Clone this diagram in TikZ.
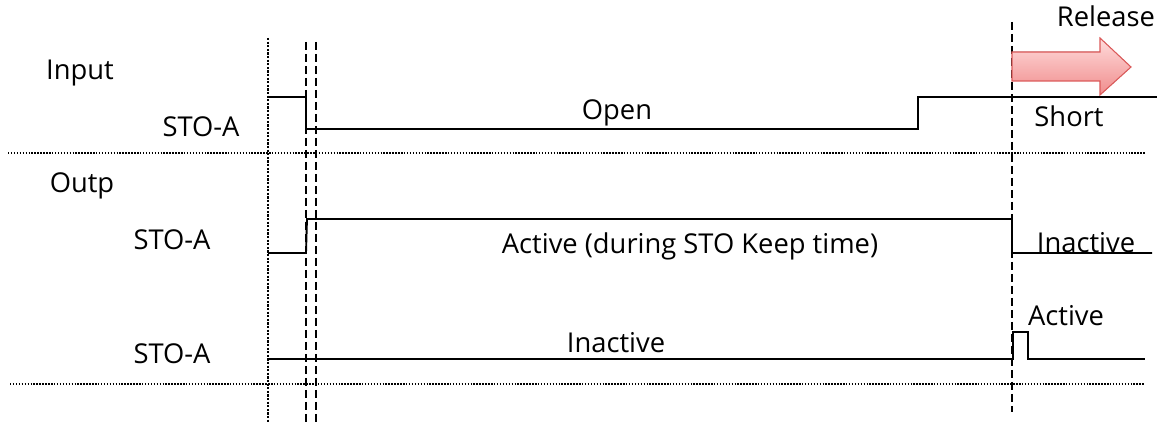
\documentclass[tikz,border=0pt]{standalone}
\usepackage{fontspec}
\setmainfont{Open Sans}
\usetikzlibrary{calc}
\definecolor{ArrowClr}{rgb}{0.86,0.35,0.35}
\definecolor{ArrowTop}{rgb}{1,0.86,0.86}
\definecolor{ArrowBot}{rgb}{0.94,0.55,0.55}

\begin{document}
\begin{tikzpicture}[x=0.75pt,y=-0.75pt,
  sig/.style={line width=1.4pt,color=black},
  sep/.style={line width=1.2pt,dash pattern=on 1.1pt off 1.1pt},
  tmark/.style={line width=1.3pt,dash pattern=on 6pt off 3pt},
  lbl/.style={font=\fontsize{20.5}{24}\selectfont,inner sep=0pt}]
\useasboundingbox (0,0) rectangle (1161,423);

% time markers
\coordinate (t0top) at (268,38);  \coordinate (t0bot) at (268,423);
\coordinate (t1top) at (306,42);  \coordinate (t1bot) at (306,423);
\coordinate (t2top) at (316,42);  \coordinate (t2bot) at (316,423);
\coordinate (t3top) at (1012,22); \coordinate (t3bot) at (1012,412);
\draw[line width=2.2pt,dash pattern=on 1.6pt off 1.1pt] (t0top) -- (t0bot);
\draw[tmark] (t1top) -- (t1bot);
\draw[tmark] (t2top) -- (t2bot);
\draw[tmark] (t3top) -- (t3bot);

% separators
\coordinate (s1l) at (8,153);  \coordinate (s1r) at (1145,153);
\coordinate (s2l) at (10,384); \coordinate (s2r) at (1145,384);
\draw[sep] (s1l) -- (s1r);
\draw[sep] (s2l) -- (s2r);

% release arrow
\filldraw[draw=ArrowClr,line width=0.8pt,top color=ArrowTop,bottom color=ArrowBot]
  (1012,52) -- (1100,52) -- (1100,38) -- (1131,67) -- (1100,95) -- (1100,81) -- (1012,81) -- cycle;

% signals
\draw[sig] (268,97) -- (306,97) -- (306,129) -- (918,129) -- (918,97) -- (1157,97);
\draw[sig] (268,253) -- (306,253) -- (307,219) -- (1012,219) -- (1012,253) -- (1152,253);
\draw[sig] (268,359) -- (1013,359) -- (1013,332) -- (1028,332) -- (1028,359) -- (1145,359);

% labels
\node[lbl] (input) at (80,73) {Input};
\node[lbl] (ina) at (201,127) {STO-A};
\node[lbl] (outp) at (82,186) {Outp};
\node[lbl] (outa) at (172,240) {STO-A};
\node[lbl] (outb) at (172,354) {STO-A};
\node[lbl] (open) at (617,113) {Open};
\node[lbl] (act) at (690,246) {Active (during STO Keep time)};
\node[lbl] (inact) at (616,343) {Inactive};
\node[lbl] (short) at (1069,116) {Short};
\node[lbl] (inact2) at (1086,243) {Inactive};
\node[lbl] (act2) at (1066,316) {Active};
\node[lbl] (rel) at (1106,16) {Release};
\end{tikzpicture}
\end{document}
